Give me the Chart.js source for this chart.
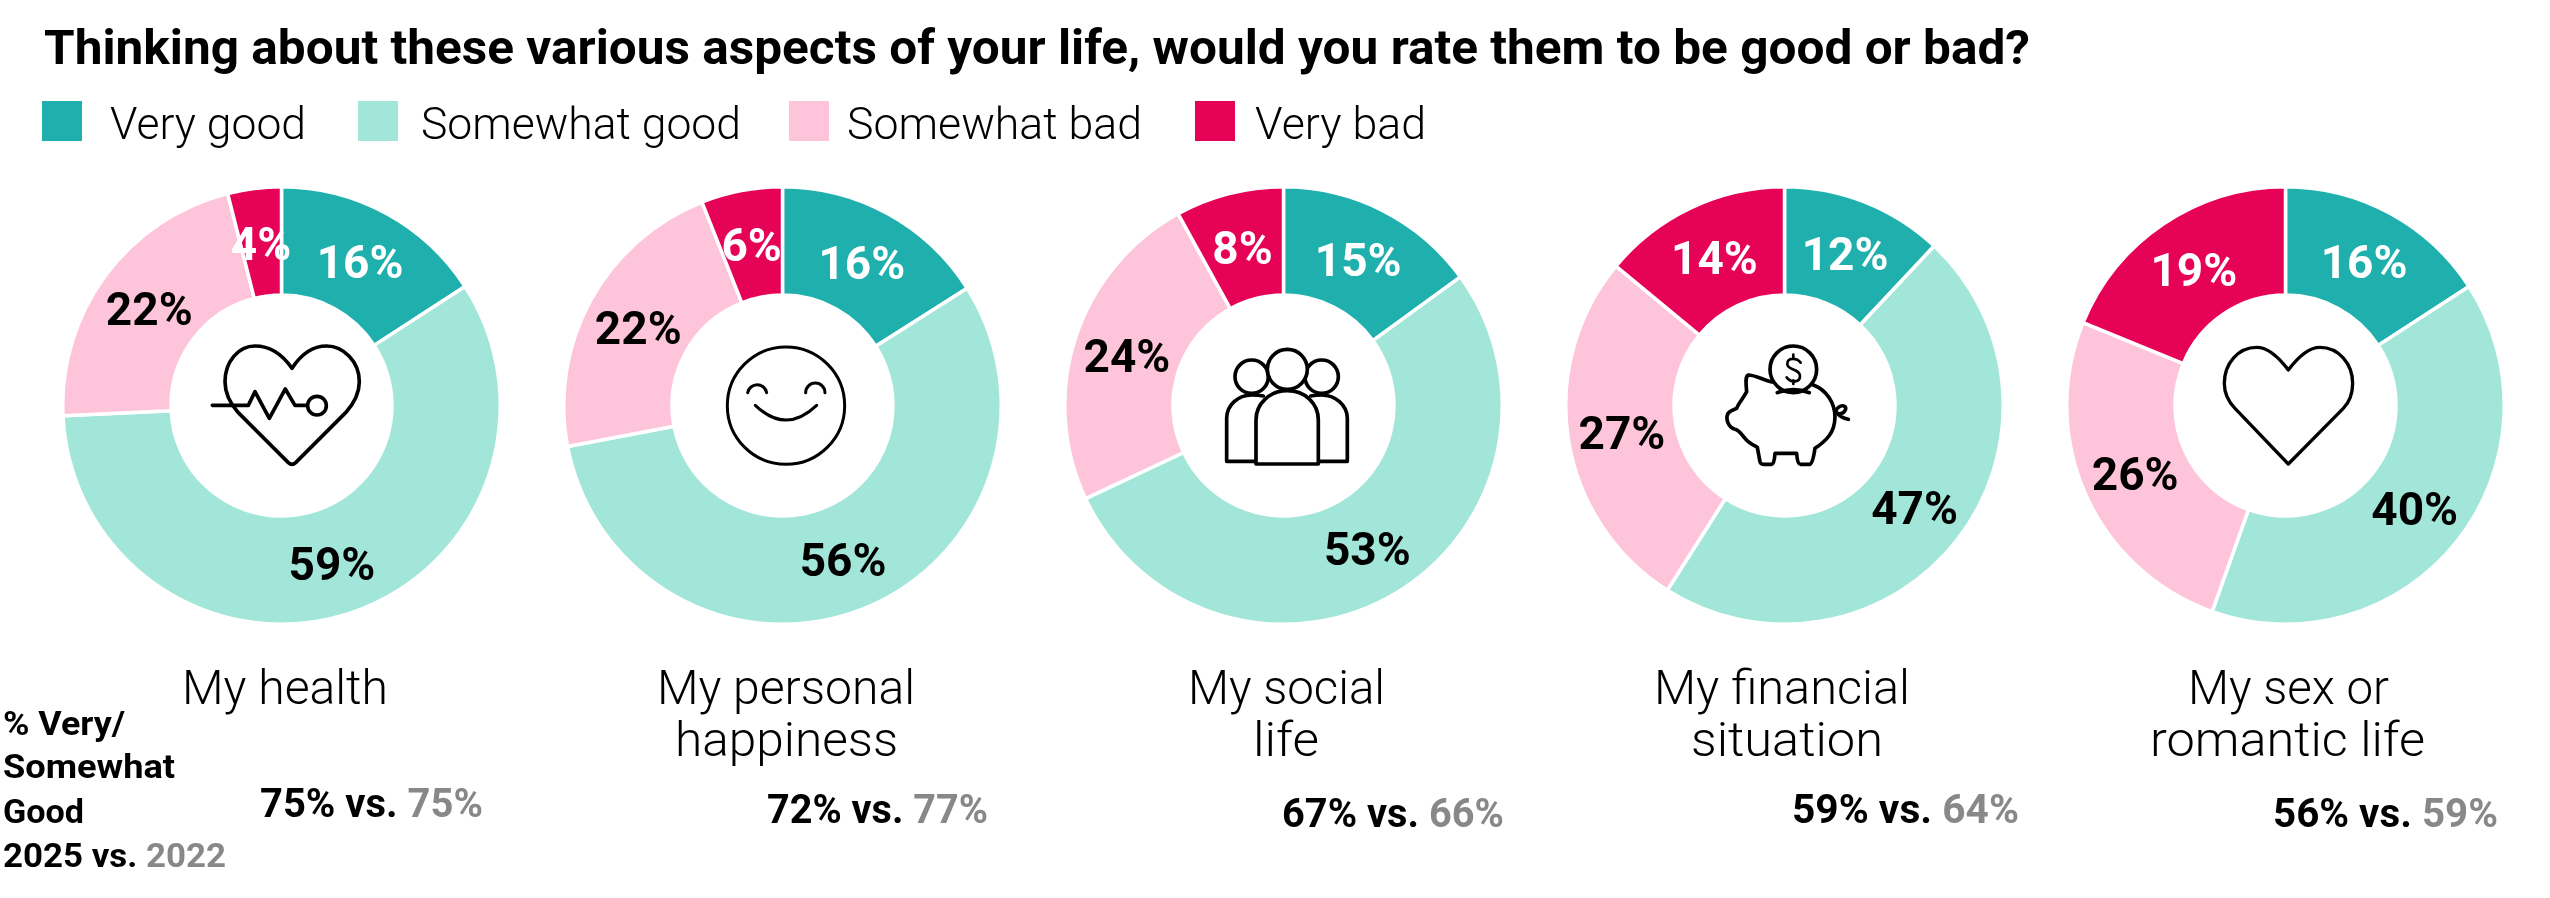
<!DOCTYPE html>
<html>
<head>
<meta charset="utf-8">
<title>Aspects of life</title>
<script src="https://cdn.jsdelivr.net/npm/chart.js@4"></script>
<style>
  html, body { margin: 0; padding: 0; background: #fff; }
  #page { position: relative; width: 2550px; height: 898px; overflow: hidden; }
  #page canvas { position: absolute; }
  #overlay { position: absolute; left: 0; top: 0; }
  #overlay text { font-family: Roboto, sans-serif; fill: #000; }
  #overlay .icon * { fill: none; stroke: #000; stroke-width: 11; stroke-linecap: round; stroke-linejoin: round; }
</style>
</head>
<body>
<div id="page">
  <svg id="overlay" width="2550" height="898" xmlns="http://www.w3.org/2000/svg"></svg>
</div>
<script>
// data
const titleText = 'Thinking about these various aspects of your life, would you rate them to be good or bad?';
const seriesNames = ['Very good', 'Somewhat good', 'Somewhat bad', 'Very bad'];
const categories = [['My health'], ['My personal', 'happiness'], ['My social', 'life'], ['My financial', 'situation'], ['My sex or', 'romantic life']];
const veryGood = [16, 16, 15, 12, 16];
const somewhatGood = [59, 56, 53, 47, 40];
const somewhatBad = [22, 22, 24, 27, 26];
const veryBad = [4, 6, 8, 14, 19];
const good2025 = [75, 72, 67, 59, 56];
const good2022 = [75, 77, 66, 64, 59];

// colours
const seriesColors = ['#1fb0ae', '#a1e6d9', '#fec5da', '#e60257'];
const labelColors = ['#fff', '#000', '#000', '#fff'];
const GREY = '#888888';

// layout
const canvasLeft = [61, 562, 1063, 1564, 2065];
const CANVAS_TOP = 185;
const CANVAS_SIZE = 441;

const overlay = document.getElementById('overlay');
const NS = 'http://www.w3.org/2000/svg';

function addText(parts, x, y, size, weight, width) {
    const t = document.createElementNS(NS, 'text');
    t.setAttribute('x', x);
    t.setAttribute('y', y);
    t.setAttribute('font-size', size);
    t.setAttribute('font-weight', weight);
    t.setAttribute('textLength', width);
    t.setAttribute('lengthAdjust', 'spacingAndGlyphs');
    parts.forEach(p => {
        const s = document.createElementNS(NS, 'tspan');
        s.textContent = p.text;
        if (p.color) s.setAttribute('style', 'fill:' + p.color);
        t.appendChild(s);
    });
    overlay.appendChild(t);
}

// prints the percentage at the middle of each slice
const sliceLabels = {
    id: 'sliceLabels',
    afterDatasetsDraw(chart) {
        const ctx = chart.ctx;
        const values = chart.data.datasets[0].data;
        ctx.save();
        ctx.font = '700 46px Roboto, sans-serif';
        ctx.textAlign = 'center';
        ctx.textBaseline = 'middle';
        chart.getDatasetMeta(0).data.forEach((arc, i) => {
            const p = arc.tooltipPosition();
            ctx.fillStyle = labelColors[i];
            ctx.fillText(values[i] + '%', p.x, p.y + 6);
        });
        ctx.restore();
    }
};

categories.forEach((cat, i) => {
    const canvas = document.createElement('canvas');
    canvas.width = CANVAS_SIZE;
    canvas.height = CANVAS_SIZE;
    canvas.style.left = canvasLeft[i] + 'px';
    canvas.style.top = CANVAS_TOP + 'px';
    canvas.style.width = CANVAS_SIZE + 'px';
    canvas.style.height = CANVAS_SIZE + 'px';
    document.getElementById('page').insertBefore(canvas, overlay);

    new Chart(canvas, {
        type: 'doughnut',
        data: {
            labels: seriesNames,
            datasets: [{
                data: [veryGood[i], somewhatGood[i], somewhatBad[i], veryBad[i]],
                backgroundColor: seriesColors,
                borderColor: '#fff',
                borderWidth: 3.5
            }]
        },
        options: {
            responsive: false,
            animation: false,
            devicePixelRatio: 1,
            cutout: '50.5%',
            plugins: { legend: { display: false }, tooltip: { enabled: false } }
        },
        plugins: [sliceLabels]
    });
});

// title
addText([{ text: titleText }], 44, 64, 49, 700, 1986);

// legend
const legendBoxX = [42, 358, 789, 1195];
const legendTextX = [110, 421, 847, 1255];
const legendTextW = [196, 320, 295, 171];
seriesNames.forEach((name, i) => {
    const r = document.createElementNS(NS, 'rect');
    r.setAttribute('x', legendBoxX[i]);
    r.setAttribute('y', 101);
    r.setAttribute('width', 40);
    r.setAttribute('height', 40);
    r.setAttribute('fill', seriesColors[i]);
    overlay.appendChild(r);
    addText([{ text: name }], legendTextX[i], 139, 45, 300, legendTextW[i]);
});

// category names under the donuts
const catLineX = [[182], [657, 675], [1188, 1253], [1654, 1691], [2188, 2150]];
const catLineW = [[206], [258, 223], [197, 66], [256, 192], [201, 275]];
categories.forEach((lines, i) => {
    lines.forEach((line, j) => {
        addText([{ text: line }], catLineX[i][j], 704 + j * 52, 48, 300, catLineW[i][j]);
    });
});

// 2025 vs 2022 row
const vsX = [260, 767, 1282, 1792, 2273];
const vsY = [817, 823, 827, 823, 827];
const vsW = [223, 221, 222, 227, 225];
good2025.forEach((v, i) => {
    addText([{ text: v + '% vs. ' }, { text: good2022[i] + '%', color: GREY }], vsX[i], vsY[i], 40, 700, vsW[i]);
});

// row caption on the left
addText([{ text: '% Very/' }], 3, 735, 34, 700, 122);
addText([{ text: 'Somewhat' }], 3, 778, 34, 700, 172);
addText([{ text: 'Good' }], 3, 823, 34, 700, 81);
addText([{ text: '2025 vs. ' }, { text: '2022', color: GREY }], 3, 867, 34, 700, 223);

// icons, drawn in 3x local units
function addIcon(originX, originY, markup) {
    const g = document.createElementNS(NS, 'g');
    g.setAttribute('class', 'icon');
    g.setAttribute('transform', 'translate(' + originX + ' ' + originY + ') scale(0.3333)');
    g.innerHTML = markup;
    overlay.appendChild(g);
}

addIcon(180, 320,
    '<path d="M336 145C305 100 265 78 225 78C175 78 135 125 135 185C135 220 150 250 175 278L325 428Q336 438 347 428L497 278C522 250 538 220 538 185C538 125 490 78 440 78C400 78 365 100 336 145Z"/>' +
    '<path d="M97 256H205L225 215L268 295L316 207L345 256H380"/>' +
    '<circle cx="411" cy="257" r="28"/>');

addIcon(700, 320,
    '<circle cx="258" cy="257" r="176" style="stroke-width:9"/>' +
    '<path style="stroke-width:9" d="M143 218A29 29 0 0 1 200 218"/>' +
    '<path style="stroke-width:9" d="M317 218A29 29 0 0 1 375 218"/>' +
    '<path style="stroke-width:9" d="M166 256Q258 344 350 256"/>');

addIcon(1180, 320,
    '<circle cx="215" cy="170" r="50"/>' +
    '<circle cx="425" cy="170" r="50"/>' +
    '<path d="M250 228C240 226 225 225 215 225C175 225 140 255 140 295V424H228"/>' +
    '<path d="M392 228C402 226 415 225 425 225C465 225 502 255 502 295V424H415"/>' +
    '<circle cx="322" cy="148" r="60" style="fill:#fff"/>' +
    '<path d="M228 432V300C228 250 270 212 322 212C375 212 415 250 415 300V432Z" style="fill:#fff"/>');

addIcon(1680, 320,
    '<circle cx="340" cy="148" r="70"/>' +
    '<path style="stroke-width:8" d="M362 128C350 112 320 112 322 132C322 152 360 145 360 168C360 190 330 188 320 172M340 104V115M340 181V192"/>' +
    '<path d="M292 218Q340 200 388 218"/>' +
    '<path d="M276 186C250 180 225 165 205 165C195 170 198 190 200 215C190 235 175 250 170 265C160 270 145 272 142 285C138 300 145 322 165 328C180 332 185 345 195 355C205 368 220 375 232 382L240 425Q242 433 250 433H275Q283 433 285 400H350Q352 433 362 433H390Q398 433 405 385C435 365 465 340 465 290C465 250 440 210 400 195"/>' +
    '<path d="M465 275C480 250 500 255 497 268C490 285 470 285 468 275C475 285 490 295 505 298"/>');

addIcon(2180, 320,
    '<path style="stroke-width:10" d="M325 150C295 110 265 82 230 82C175 82 133 130 133 190C133 220 145 245 165 265L325 432L490 265C510 245 518 220 518 190C518 130 475 82 420 82C385 82 355 110 325 150Z"/>');
</script>
</body>
</html>
